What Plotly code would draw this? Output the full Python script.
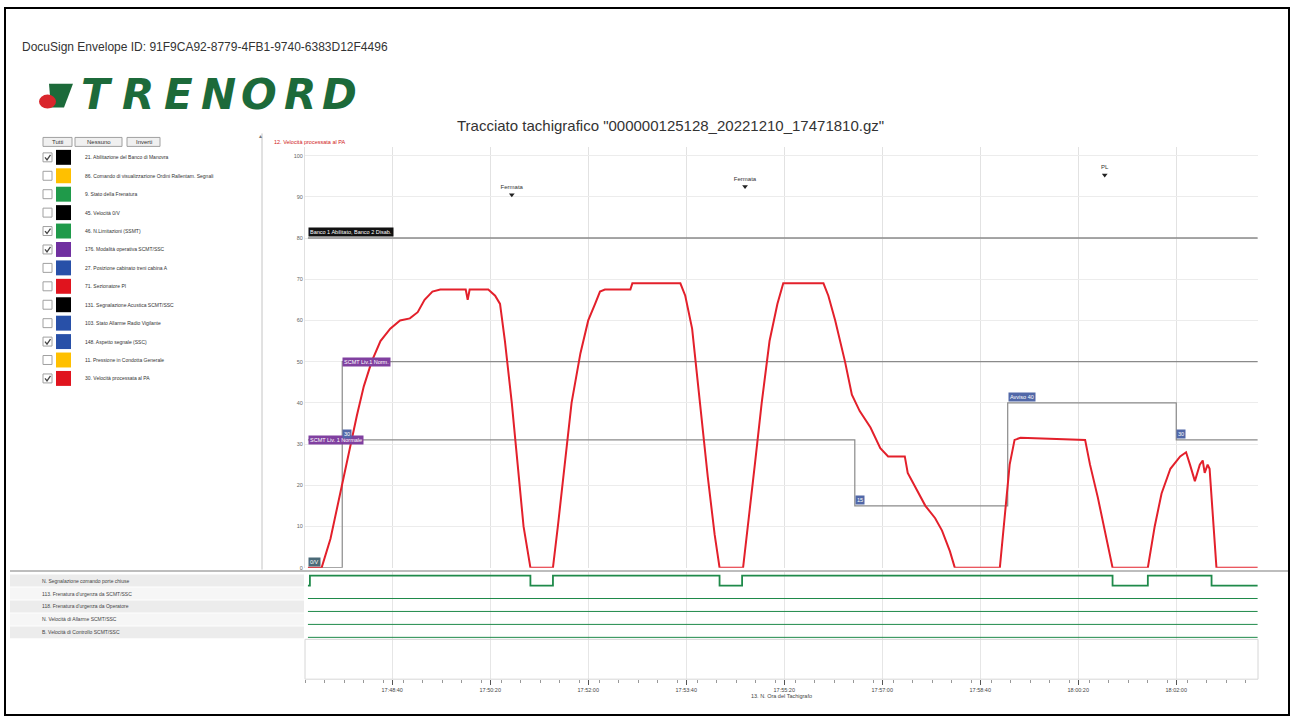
import plotly.graph_objects as go

W, H = 1295, 724
def PX(x): return x / W
def PY(y): return 1 - y / H

# ---------------- data ----------------
speed_t = [3,17,26,34,41,46,53,60,68,77,87,97,107,115,122,130,138,164,166,168,
           187,194,199,204,211,217,223,230,253,258,265,272,281,289,296,301,306,332,334,383,
           388,395,403,411,418,423,447,452,459,466,474,482,488,529,534,541,551,558,566,577,
           587,595,612,615,622,633,643,650,658,663,709,714,719,724,730,796,801,809,817,824,
           860,867,874,883,893,899,903,908,913,916,918,921,923,927,930,972]
speed_v = [0,0,7,16,24,30,37,44,50,55,58,60,60.5,62,65,67,67.5,67.5,65,67.5,
           67.5,66,64,55,40,25,10,0,0,10,25,40,52,60,64,67,67.5,67.5,69,69,
           66,58,40,22,8,0,0,10,25,40,55,64,69,69,66,60,50,42,38,34,
           29,27,27,23,20,15,12,9,4,0,0,12,25,31,31.5,31,25,17,8,0,
           0,10,18,24,27,28,25,21,25,26,23,25,24,10,0,0]

banco_t = [3, 972]
banco_v = [80, 80]
banco_lab = ["Banco 1 Abilitato, Banco 2 Disab."]

modo_t = [3, 38, 972]
modo_v = [31, 50, 50]
modo_lab = ["SCMT Liv. 1 Normale", "SCMT Liv.1 Norm."]

aspetto_t = [3, 38, 561, 717, 889, 972]
aspetto_v = [0, 31, 15, 40, 31, 31]
aspetto_lab = ["0/V", "30", "15", "Avviso 40", "30"]

event_t = [211, 449, 816]
event_v = [90.5, 92.5, 95.3]
event_lab = ["Fermata", "Fermata", "PL"]

porte_t = [3, 5, 230, 253, 423, 446, 824, 860, 925, 972]
porte_s = [0, 1, 0, 1, 0, 1, 0, 1, 0, 0]
flat_t = [3, 972]
flat_s = [0, 0]

tick_sec = [89, 189, 289, 389, 489, 589, 689, 789, 889]
tick_lab = ["17:48:40", "17:50:20", "17:52:00", "17:53:40", "17:55:20",
            "17:57:00", "17:58:40", "18:00:20", "18:02:00"]
y_ticks = [0, 10, 20, 30, 40, 50, 60, 70, 80, 90, 100]

legend_items = [
    ("21. Abilitazione del Banco di Manovra", "#000000", True),
    ("86. Comando di visualizzazione Ordini Rallentam. Segnali", "#ffc000", False),
    ("9. Stato della Frenatura", "#1f9a4a", False),
    ("45. Velocità 0/V", "#000000", False),
    ("46. N.Limitazioni (SSMT)", "#1f9a4a", True),
    ("176. Modalità operativa SCMT/SSC", "#7030a0", True),
    ("27. Posizione cabinato treni cabina A", "#2850a8", False),
    ("71. Sezionatore PI", "#e0141e", False),
    ("131. Segnalazione Acustica SCMT/SSC", "#000000", False),
    ("103. Stato Allarme Radio Vigilante", "#2850a8", False),
    ("148. Aspetto segnale (SSC)", "#2850a8", True),
    ("11. Pressione in Condotta Generale", "#ffc000", False),
    ("30. Velocità processata al PA", "#e0141e", True),
]
digital_labels = [
    "N. Segnalazione comando porte chiuse",
    "113. Frenatura d'urgenza da SCMT/SSC",
    "118. Frenatura d'urgenza da Operatore",
    "N. Velocità di Allarme SCMT/SSC",
    "B. Velocità di Controllo SCMT/SSC",
]

# ---------------- figure ----------------
fig = go.Figure()
GREY = "#8a8a8a"

fig.add_trace(go.Scatter(x=banco_t, y=banco_v, mode="lines", line=dict(color=GREY, width=1.5, shape="hv"),
                         xaxis="x", yaxis="y", hoverinfo="skip"))
fig.add_trace(go.Scatter(x=modo_t, y=modo_v, mode="lines", line=dict(color=GREY, width=1.2, shape="hv"),
                         xaxis="x", yaxis="y", hoverinfo="skip"))
fig.add_trace(go.Scatter(x=aspetto_t, y=aspetto_v, mode="lines", line=dict(color=GREY, width=1.2, shape="hv"),
                         xaxis="x", yaxis="y", hoverinfo="skip"))
fig.add_trace(go.Scatter(x=speed_t, y=speed_v, mode="lines", line=dict(color="#e3202b", width=2),
                         xaxis="x", yaxis="y"))
fig.add_trace(go.Scatter(x=event_t, y=event_v, mode="markers+text", text=event_lab,
                         textposition="top center", textfont=dict(size=6, color="#333"),
                         marker=dict(symbol="triangle-down", size=5, color="#222"),
                         xaxis="x", yaxis="y"))

# digital signals (lower panel): row k base = 94 - 13k, high = +10
for k in range(5):
    base = 94 - 13 * k
    if k == 0:
        t, s = porte_t, porte_s
        w = 1.8
    else:
        t, s = flat_t, flat_s
        w = 1
    fig.add_trace(go.Scatter(x=t, y=[base + 10 * v for v in s], mode="lines",
                             line=dict(color="#1f8a4a", width=w, shape="hv"),
                             xaxis="x2", yaxis="y2", hoverinfo="skip"))

ann = []
shapes = []

def note(x, y, text, size, color="#333", xanchor="center", family="Liberation Sans", **kw):
    ann.append(dict(x=PX(x), y=PY(y), xref="paper", yref="paper", showarrow=False,
                    xanchor=xanchor, yanchor="middle", text=text,
                    font=dict(size=size, color=color, family=family, **kw)))

# series labels (boxes)
def box(t, v, text, bg, yanchor="middle", yshift=0):
    ann.append(dict(x=t, y=v, xref="x", yref="y", text=text, showarrow=False,
                    xanchor="left", yanchor=yanchor, yshift=yshift,
                    font=dict(size=5.5, color="white", family="Liberation Sans"),
                    bgcolor=bg, borderpad=1))

box(banco_t[0], banco_v[0], banco_lab[0], "#111111", "bottom", 1)
for t, v, lab in zip(modo_t[:2], modo_v[:2], modo_lab):
    box(t, v, lab, "#8040a0", "middle")
for i, (t, v, lab) in enumerate(zip(aspetto_t[:5], aspetto_v[:5], aspetto_lab)):
    box(t, v, lab, "#4a6a78" if i == 0 else "#5268a8", "bottom", 1)

# page text
note(20, 47, "DocuSign Envelope ID: 91F9CA92-8779-4FB1-9740-6383D12F4496", 12, "#333", "left")
note(670, 126, 'Tracciato tachigrafico "000000125128_20221210_17471810.gz"', 15, "#333")
for i, ch in enumerate("TRENORD"):
    note(97 + i * 40.5, 95, ch, 42, "#1c6a3a", family="DejaVu Sans", style="italic", weight="bold")
# logo icon
def path(pts):
    return "M " + " L ".join(f"{PX(x)} {PY(y)}" for x, y in pts) + " Z"
shapes.append(dict(type="path", xref="paper", yref="paper", path=path([(49, 84), (73, 84), (64, 108), (51, 108)]),
                   fillcolor="#1c6a3a", line=dict(width=0)))
shapes.append(dict(type="circle", xref="paper", yref="paper", x0=PX(39), x1=PX(56), y0=PY(109), y1=PY(95),
                   fillcolor="#d9262c", line=dict(width=0)))

# y axis title at top
note(272, 143, "12. Velocità processata al PA", 5.5, "#d02020", "left")

# buttons
for x0, x1, lab in [(43, 72, "Tutti"), (75, 122, "Nessuno"), (127, 160, "Inverti")]:
    shapes.append(dict(type="rect", xref="paper", yref="paper", x0=PX(x0), x1=PX(x1), y0=PY(147), y1=PY(138),
                       fillcolor="#f0f0f0", line=dict(color="#a0a0a0", width=1)))
    note((x0 + x1) / 2, 142.5, lab, 6, "#333")

# legend list
for i, (lab, col, chk) in enumerate(legend_items):
    yc = 158 + i * 18.5
    shapes.append(dict(type="rect", xref="paper", yref="paper", x0=PX(43), x1=PX(52), y0=PY(yc + 4.5), y1=PY(yc - 4.5),
                       fillcolor="white", line=dict(color="#a0a0a0", width=1)))
    shapes.append(dict(type="rect", xref="paper", yref="paper", x0=PX(56), x1=PX(71), y0=PY(yc + 7.5), y1=PY(yc - 7.5),
                       fillcolor=col, line=dict(width=0)))
    note(83, yc, lab, 5, "#333", "left")
    if chk:
        shapes.append(dict(type="path", xref="paper", yref="paper",
                           path="M {} {} L {} {} L {} {}".format(PX(45), PY(yc), PX(47), PY(yc + 2.5), PX(50.5), PY(yc - 2.5)),
                           line=dict(color="#444", width=1.3)))

# panel separators
shapes.append(dict(type="line", xref="paper", yref="paper", x0=PX(262), x1=PX(262), y0=PY(134), y1=PY(572),
                   line=dict(color="#c4c4c4", width=1)))
note(260, 137, "▲", 5, "#777")
shapes.append(dict(type="line", xref="paper", yref="paper", x0=PX(10), x1=PX(1290), y0=PY(573.5), y1=PY(573.5),
                   line=dict(color="#bdbdbd", width=2)))

# lower rows (labels with stripes)
for k, lab in enumerate(digital_labels):
    y0 = 577 + 13 * k
    shapes.append(dict(type="rect", xref="paper", yref="paper", x0=PX(10), x1=PX(304), y0=PY(y0 + 12), y1=PY(y0),
                       fillcolor="#ececec" if k % 2 == 0 else "#f6f6f6", line=dict(width=0), layer="below"))
    note(40, y0 + 6, lab, 5, "#444", "left")
# lower empty row box
shapes.append(dict(type="rect", xref="paper", yref="paper", x0=PX(305), x1=PX(1258), y0=PY(682), y1=PY(642),
                   line=dict(color="#d6d6d6", width=1)))

# page border
shapes.append(dict(type="rect", xref="paper", yref="paper", x0=PX(5), x1=PX(1289), y0=PY(718), y1=PY(8),
                   line=dict(color="#000", width=2)))

dom_x = [PX(305), PX(1258)]
fig.update_layout(
    width=W, height=H, autosize=False,
    margin=dict(l=0, r=0, t=0, b=0),
    paper_bgcolor="white", plot_bgcolor="white",
    showlegend=False,
    font=dict(family="Liberation Sans", color="#555"),
    xaxis=dict(domain=dom_x, anchor="y", range=[0, 972.4], showticklabels=False,
               tickvals=tick_sec, showgrid=True, gridcolor="#e2e2e2", gridwidth=1, zeroline=False,
               showline=False, ticks=""),
    yaxis=dict(domain=[PY(570), PY(148)], anchor="x", range=[0, 102], tickvals=y_ticks,
               tickfont=dict(size=5.5, color="#666"), showgrid=True, gridcolor="#ececec",
               zeroline=False, showline=True, linecolor="#e0e0e0", ticks=""),
    xaxis2=dict(domain=dom_x, anchor="y2", range=[0, 972.4], tickvals=tick_sec, ticktext=tick_lab,
                tickfont=dict(size=5.5, color="#444"), ticks="outside", ticklen=5, tickcolor="#555",
                minor=dict(dtick=20, ticklen=3, tickcolor="#999", ticks="outside", showgrid=False),
                showgrid=True, gridcolor="#e6e6e6", zeroline=False, showline=False,
                title=dict(text="13. N. Ora del Tachigrafo", font=dict(size=5.5, color="#444"), standoff=2)),
    yaxis2=dict(domain=[PY(682), PY(574)], anchor="x2", range=[0, 108], showticklabels=False,
                showgrid=False, zeroline=False, showline=False, ticks=""),
    annotations=ann, shapes=shapes,
)

fig.write_html("out.html", config={"displayModeBar": False},
               post_script="document.body.style.margin='0';document.body.style.overflow='hidden';")
